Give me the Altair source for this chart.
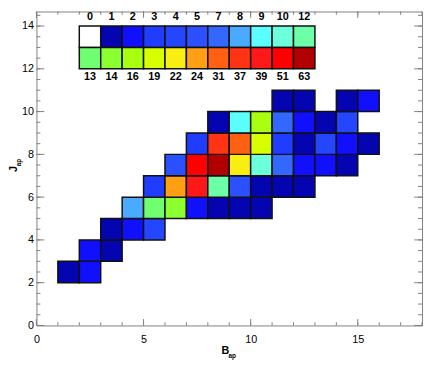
import altair as alt
import pandas as pd

# ---- data ----
levels = [0, 1, 2, 3, 4, 5, 7, 8, 9, 10, 12, 13, 14, 16, 19, 22, 24, 31, 37, 39, 51, 63]
level_colors = ["#ffffff", "#0404b0", "#1010ff", "#1f3cff", "#2446ff", "#2a50ff",
                "#3268ff", "#4aaaff", "#5cffff", "#6cffdc", "#6cffa8", "#70ff70",
                "#8cff30", "#a8ff10", "#d8ff00", "#f8ee12", "#ffa014", "#ff6012",
                "#ff3414", "#ff1818", "#ff0000", "#b00000"]

cell_x = [1, 2,
          2, 3,
          3, 4, 5,
          4, 5, 6, 7, 8, 9, 10,
          5, 6, 7, 8, 9, 10, 11, 12,
          6, 7, 8, 9, 10, 11, 12, 13, 14,
          7, 8, 9, 10, 11, 12, 13, 14, 15,
          8, 9, 10, 11, 12, 13, 14,
          11, 12, 14, 15]
cell_y = [2, 2,
          3, 3,
          4, 4, 4,
          5, 5, 5, 5, 5, 5, 5,
          6, 6, 6, 6, 6, 6, 6, 6,
          7, 7, 7, 7, 7, 7, 7, 7, 7,
          8, 8, 8, 8, 8, 8, 8, 8, 8,
          9, 9, 9, 9, 9, 9, 9,
          10, 10, 10, 10]
cell_count = [1, 2,
              2, 1,
              1, 2, 4,
              8, 13, 14, 2, 1, 1, 1,
              3, 24, 39, 12, 5, 1, 1, 1,
              5, 51, 63, 22, 10, 7, 2, 2, 1,
              3, 37, 31, 19, 3, 1, 4, 2, 1,
              1, 9, 16, 7, 2, 1, 4,
              1, 1, 1, 2]

x_label_values = [0, 5, 10, 15]
y_label_values = [0, 2, 4, 6, 8, 10, 12, 14]
x_minor_ticks = list(range(0, 19))
x_major_ticks = [0, 5, 10, 15]
y_minor_ticks = [i * 0.5 for i in range(0, 30)]
y_major_ticks = [0, 2, 4, 6, 8, 10, 12, 14]

# ---- layout constants ----
W, H = 393, 320
XDOM = [0, 18]
YDOM = [0, 14.68]
FONT = "Liberation Sans"
FRAME = "#7f7f7f"

xs = alt.Scale(domain=XDOM, nice=False, zero=False)
ys = alt.Scale(domain=YDOM, nice=False, zero=False)
x_axis = alt.Axis(values=x_label_values, ticks=False, domain=False, grid=False, title=None,
                  labelFlush=False, labelPadding=8, format="d")
y_axis = alt.Axis(values=y_label_values, ticks=False, domain=False, grid=False, title=None,
                  labelFlush=False, labelPadding=3, format="d")
color_scale = alt.Scale(domain=[str(v) for v in levels], range=level_colors)

cells = pd.DataFrame({"x": cell_x, "y": cell_y, "level": [str(c) for c in cell_count]})
cells["x_end"] = cells["x"] + 1
cells["y_end"] = cells["y"] + 1

n = len(levels)
half = n // 2
leg = pd.DataFrame({
    "level": [str(v) for v in levels],
    "x": [2 + (i % half) for i in range(n)],
    "y": [13 if i < half else 12 for i in range(n)],
})
leg["x_end"] = leg["x"] + 1
leg["y_end"] = leg["y"] + 1
leg["xc"] = leg["x"] + 0.5
leg["ty"] = [14.4 if i < half else 11.6 for i in range(n)]

heat = alt.Chart(cells).mark_rect(stroke="#111111", strokeWidth=1.5).encode(
    x=alt.X("x:Q", scale=xs, axis=x_axis),
    x2="x_end:Q",
    y=alt.Y("y:Q", scale=ys, axis=y_axis),
    y2="y_end:Q",
    color=alt.Color("level:N", scale=color_scale, legend=None),
)

legend_rects = alt.Chart(leg).mark_rect(stroke="#111111", strokeWidth=1.5).encode(
    x=alt.X("x:Q", scale=xs, axis=x_axis), x2="x_end:Q",
    y=alt.Y("y:Q", scale=ys, axis=y_axis), y2="y_end:Q",
    color=alt.Color("level:N", scale=color_scale, legend=None),
)
legend_text = alt.Chart(leg).mark_text(font=FONT, fontSize=11, fontWeight="bold",
                                       baseline="middle", align="center", color="black").encode(
    x=alt.X("xc:Q", scale=xs, axis=x_axis),
    y=alt.Y("ty:Q", scale=ys, axis=y_axis),
    text="level:N",
)

def xticks(vals, length, top):
    df = pd.DataFrame({"v": vals})
    y0, y1 = (0, length) if top else (H, H - length)
    return alt.Chart(df).mark_rule(color=FRAME, strokeWidth=1).encode(
        x=alt.X("v:Q", scale=xs, axis=x_axis), y=alt.value(y0), y2=alt.value(y1))

def yticks(vals, length, right):
    df = pd.DataFrame({"v": vals})
    x0, x1 = (W, W - length) if right else (0, length)
    return alt.Chart(df).mark_rule(color=FRAME, strokeWidth=1).encode(
        y=alt.Y("v:Q", scale=ys, axis=y_axis), x=alt.value(x0), x2=alt.value(x1))

tick_layers = [
    xticks(x_minor_ticks, 3.3, False), xticks(x_major_ticks, 6.5, False),
    xticks(x_minor_ticks, 3.3, True), xticks(x_major_ticks, 6.5, True),
    yticks(y_minor_ticks, 4, False), yticks(y_major_ticks, 8, False),
    yticks(y_minor_ticks, 4, True), yticks(y_major_ticks, 8, True),
]

def label(txt, px, py, size, angle=0, weight="bold"):
    return alt.Chart(pd.DataFrame({"t": [txt]})).mark_text(
        font=FONT, fontSize=size, fontWeight=weight, angle=angle,
        align="center", baseline="middle", color="black").encode(
        x=alt.value(px), y=alt.value(py), text="t:N")

titles = [
    label("B", 192.5, 346.5, 11),
    label("ap", 199.5, 351, 6.5),
    label("J", -23, 160.5, 11, angle=270),
    label("ap", -18, 154, 6.5, angle=270),
]

chart = alt.layer(heat, legend_rects, legend_text, *tick_layers, *titles).properties(
    width=W, height=H,
    padding={"left": 29, "top": 0, "right": 2, "bottom": 51},
    autosize=alt.AutoSizeParams(type="none"),
).configure_view(stroke=FRAME, strokeWidth=1).configure_axis(
    labelFont=FONT, labelFontSize=11, labelColor="black"
)

chart.save("out.html", embed_options={"renderer": "svg", "actions": False})
